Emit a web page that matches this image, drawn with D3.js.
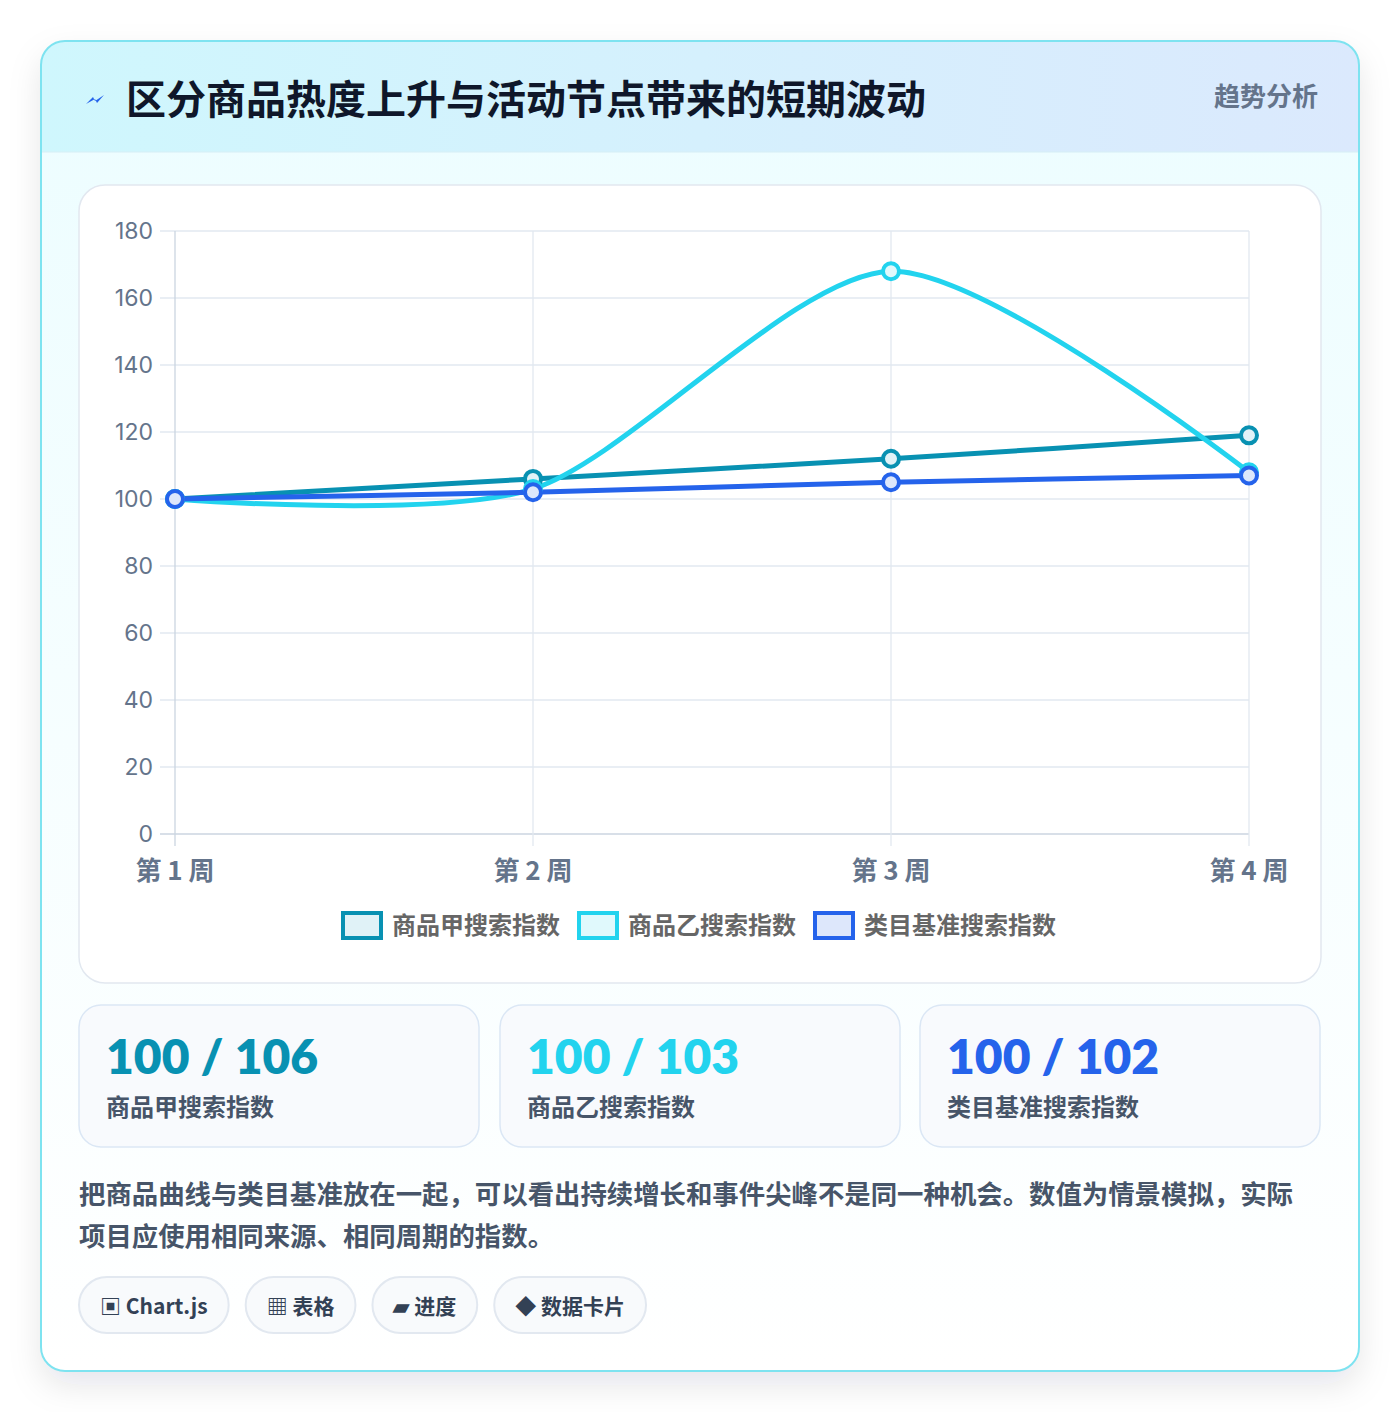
<!DOCTYPE html>
<html><head><meta charset="utf-8">
<script src="https://cdn.jsdelivr.net/npm/d3@7"></script>
<style>
body{margin:0;background:#fff;font-family:"Noto Sans CJK SC","Noto Sans",sans-serif;}
</style></head>
<body><svg width="1400" height="1412"></svg>
<script>
const weeks = ["第 1 周", "第 2 周", "第 3 周", "第 4 周"];
const seriesNames = ["商品甲搜索指数", "商品乙搜索指数", "类目基准搜索指数"];
const seriesA = [100, 106, 112, 119];
const seriesB = [100, 103, 168, 108];
const seriesC = [100, 102, 105, 107];
const yTicks = [0, 20, 40, 60, 80, 100, 120, 140, 160, 180];
const colors = ["#0891b2", "#22d3ee", "#2563eb"];
const fills = ["#e0f2f7", "#e0f9fc", "#dde7fb"];
const pills = ["▣ Chart.js", "▦ 表格", "▰ 进度", "◆ 数据卡片"];

const svg = d3.select("svg");
const defs = svg.append("defs");
const sh = defs.append("filter").attr("id", "sh").attr("x", -0.2).attr("y", -0.2).attr("width", 1.4).attr("height", 1.4);
sh.append("feDropShadow").attr("dx", 0).attr("dy", 14).attr("stdDeviation", 16).attr("flood-color", "#0f172a").attr("flood-opacity", 0.1);
const hg = defs.append("linearGradient").attr("id", "hg");
hg.append("stop").attr("offset", 0).attr("stop-color", "#cff7fd");
hg.append("stop").attr("offset", 1).attr("stop-color", "#dbe9fd");
const bg = defs.append("linearGradient").attr("id", "bg").attr("x2", 0).attr("y2", 1);
bg.append("stop").attr("offset", 0).attr("stop-color", "#ecfdff");
bg.append("stop").attr("offset", 1).attr("stop-color", "#ffffff");
const clip = defs.append("clipPath").attr("id", "cc");
clip.append("rect").attr("x", 41).attr("y", 41).attr("width", 1318).attr("height", 1330).attr("rx", 24);

svg.append("rect").attr("x", 41).attr("y", 41).attr("width", 1318).attr("height", 1330).attr("rx", 24)
  .attr("fill", "url(#bg)").attr("filter", "url(#sh)");
svg.append("rect").attr("clip-path", "url(#cc)").attr("x", 41).attr("y", 41).attr("width", 1318).attr("height", 111).attr("fill", "url(#hg)");
svg.append("line").attr("x1", 41).attr("x2", 1359).attr("y1", 152).attr("y2", 152).attr("stroke", "#d6eef5");
svg.append("rect").attr("x", 41).attr("y", 41).attr("width", 1318).attr("height", 1330).attr("rx", 24)
  .attr("fill", "none").attr("stroke", "#7ee3f0").attr("stroke-width", 2);

// small lightning glyph
svg.append("path").attr("d", "M86,104 L93,97 L95,101 L104,95 L97,103 L95,99 Z").attr("fill", "#2563eb");
svg.append("text").attr("x", 126).attr("y", 114).attr("font-size", 40).attr("font-weight", 700).attr("fill", "#0f172a").text("区分商品热度上升与活动节点带来的短期波动");
svg.append("text").attr("x", 1318).attr("y", 106).attr("text-anchor", "end").attr("font-size", 26).attr("font-weight", 700).attr("fill", "#64748b").text("趋势分析");

// chart panel
svg.append("rect").attr("x", 79).attr("y", 185).attr("width", 1242).attr("height", 798).attr("rx", 26)
  .attr("fill", "#fff").attr("stroke", "#e2e8f0").attr("stroke-width", 1.5);

const x = d3.scalePoint().domain(weeks).range([175, 1249]);
const y = d3.scaleLinear().domain([0, 180]).range([834, 231]);
const g = svg.append("g");
g.selectAll(".hg").data(yTicks).join("line").attr("x1", 160).attr("x2", 1249)
  .attr("y1", d => y(d)).attr("y2", d => y(d)).attr("stroke", d => d === 0 ? "#cbd5e1" : "#e2e8f0").attr("stroke-width", 1.3);
g.selectAll(".vg").data(weeks).join("line").attr("x1", d => x(d)).attr("x2", d => x(d))
  .attr("y1", 231).attr("y2", 846).attr("stroke", (d, i) => i === 0 ? "#cbd5e1" : "#e2e8f0").attr("stroke-width", 1.3);
g.selectAll(".yl").data(yTicks).join("text").attr("x", 153).attr("y", d => y(d) + 8).attr("text-anchor", "end")
  .attr("font-size", 23).attr("fill", "#64748b").attr("font-family", "Inter,sans-serif").text(d => d);
g.selectAll(".xl").data(weeks).join("text").attr("x", d => x(d)).attr("y", 880).attr("text-anchor", "middle")
  .attr("font-size", 26).attr("font-weight", 700).attr("fill", "#64748b").text(d => d);

const line = d3.line().x((d, i) => x(weeks[i])).y(d => y(d)).curve(d3.curveCardinal.tension(0.2));
[seriesA, seriesB, seriesC].forEach((s, k) => {
  g.append("path").attr("d", line(s)).attr("fill", "none").attr("stroke", colors[k]).attr("stroke-width", 5);
});
[seriesA, seriesB, seriesC].forEach((s, k) => {
  g.selectAll(null).data(s).join("circle").attr("cx", (d, i) => x(weeks[i])).attr("cy", d => y(d)).attr("r", 8)
    .attr("fill", fills[k]).attr("stroke", colors[k]).attr("stroke-width", 4);
});

// legend
const lx = [341, 577, 813];
seriesNames.forEach((n, k) => {
  svg.append("rect").attr("x", lx[k] + 2).attr("y", 913).attr("width", 38).attr("height", 25)
    .attr("fill", fills[k]).attr("stroke", colors[k]).attr("stroke-width", 4);
  svg.append("text").attr("x", lx[k] + 51).attr("y", 934).attr("font-size", 24).attr("font-weight", 700).attr("fill", "#666").text(n);
});

// stat cards
const cardX = [79, 500, 920];
[seriesA, seriesB, seriesC].forEach((s, k) => {
  const cx = cardX[k];
  svg.append("rect").attr("x", cx).attr("y", 1005).attr("width", 400).attr("height", 142).attr("rx", 22)
    .attr("fill", "#f8fafd").attr("stroke", "#dbe7f5").attr("stroke-width", 1.5);
  svg.append("text").attr("x", cx + 27).attr("y", 1074).attr("font-size", 48).attr("font-weight", 800)
    .attr("fill", colors[k]).attr("font-family", "Lato,'Noto Sans',sans-serif").text(s[0] + " / " + s[1]);
  svg.append("text").attr("x", cx + 27).attr("y", 1116).attr("font-size", 24).attr("font-weight", 700).attr("fill", "#475569").text(seriesNames[k]);
});

svg.append("text").attr("x", 79).attr("y", 1204).attr("font-size", 26.4).attr("font-weight", 700).attr("fill", "#475569")
  .text("把商品曲线与类目基准放在一起，可以看出持续增长和事件尖峰不是同一种机会。数值为情景模拟，实际");
svg.append("text").attr("x", 79).attr("y", 1246).attr("font-size", 26.4).attr("font-weight", 700).attr("fill", "#475569")
  .text("项目应使用相同来源、相同周期的指数。");

let px = 79;
pills.forEach(p => {
  const pg = svg.append("g");
  const r = pg.append("rect");
  const t = pg.append("text").attr("y", 1314).attr("font-size", 21).attr("font-weight", 700).attr("fill", "#334155").text(p);
  const w = t.node().getComputedTextLength() + 42;
  t.attr("x", px + 21);
  r.attr("x", px).attr("y", 1277).attr("width", w).attr("height", 56).attr("rx", 28)
    .attr("fill", "#f8fafc").attr("stroke", "#e2e8f0").attr("stroke-width", 2);
  px += w + 17;
});
</script></body></html>
